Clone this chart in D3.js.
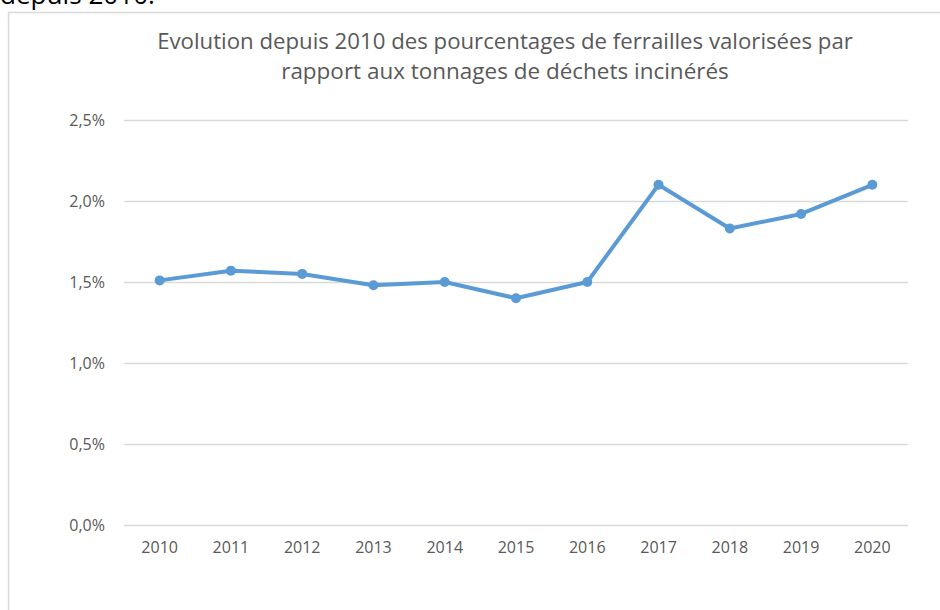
<!DOCTYPE html>
<html>
<head>
<meta charset="utf-8">
<script src="https://cdn.jsdelivr.net/npm/d3@7"></script>
<style>
  body { margin: 0; background: #fff; }
  svg { display: block; font-family: 'Open Sans', sans-serif; }
</style>
</head>
<body>
<div id="app"></div>
<script>
const years = ['2010', '2011', '2012', '2013', '2014', '2015', '2016', '2017', '2018', '2019', '2020'];
const values = [1.51, 1.57, 1.55, 1.48, 1.50, 1.40, 1.50, 2.10, 1.83, 1.92, 2.10];
const yTicks = [0, 0.5, 1.0, 1.5, 2.0, 2.5];
const titleLines = [
  'Evolution depuis 2010 des pourcentages de ferrailles valorisées par',
  'rapport aux tonnages de déchets incinérés'
];

const svg = d3.select('#app').append('svg')
  .attr('width', 940)
  .attr('height', 610);

const margin = { top: 120, right: 32, bottom: 85, left: 124 };
const width = 940 - margin.left - margin.right;
const height = 610 - margin.top - margin.bottom;

function fitWidth(sel, target, fs) {
  const w = sel.node().getComputedTextLength();
  if (w > 0) sel.attr('font-size', fs * target / w);
}

// paragraph text above the chart (cut by the top edge, as in the source)
const headText = svg.append('text')
  .attr('x', 0)
  .attr('y', 4)
  .attr('fill', '#000')
  .attr('font-size', 22)
  .text('depuis 2010.');
fitWidth(headText, 155, 22);

// chart area border
svg.append('rect')
  .attr('x', 8.5)
  .attr('y', 12.5)
  .attr('width', 1000)
  .attr('height', 1000)
  .attr('fill', 'none')
  .attr('stroke', '#d9d9d9')
  .attr('stroke-width', 1.5);

const title = svg.append('g').attr('class', 'title');
const titleWidths = [696, 448];
titleLines.forEach((t, i) => {
  const tx = title.append('text')
    .attr('x', 505)
    .attr('y', 49 + i * 30)
    .attr('text-anchor', 'middle')
    .attr('fill', '#595959')
    .attr('font-size', 19)
    .text(t);
  fitWidth(tx, titleWidths[i], 19);
});

const g = svg.append('g')
  .attr('transform', `translate(${margin.left},${margin.top})`);

const x = d3.scaleBand()
  .domain(years)
  .range([0, width]);

const y = d3.scaleLinear()
  .domain([0, 2.5])
  .range([height, 0]);

const fmt = d => d3.format('.1f')(d).replace('.', ',') + '%';

// grid
g.append('g')
  .attr('class', 'grid')
  .call(d3.axisLeft(y)
    .tickValues(yTicks)
    .tickSize(-width)
    .tickFormat(''))
  .call(s => s.select('.domain').remove())
  .call(s => s.selectAll('line').attr('stroke', '#d9d9d9').attr('stroke-width', 1.3));

// y labels
g.append('g')
  .attr('class', 'axis axis--y')
  .call(d3.axisLeft(y).tickValues(yTicks).tickSize(0).tickPadding(19).tickFormat(fmt))
  .attr('font-family', "'Open Sans', sans-serif")
  .attr('font-size', 16)
  .call(s => s.select('.domain').remove())
  .call(s => s.selectAll('text').attr('fill', '#595959'));

// x labels
g.append('g')
  .attr('class', 'axis axis--x')
  .attr('transform', `translate(0,${height})`)
  .call(d3.axisBottom(x).tickSize(0).tickPadding(17))
  .attr('font-family', "'Open Sans', sans-serif")
  .attr('font-size', 16)
  .call(s => s.select('.domain').remove())
  .call(s => s.selectAll('text').attr('fill', '#595959'));

const data = years.map((yr, i) => ({ year: yr, value: values[i] }));
const cx = d => x(d.year) + x.bandwidth() / 2;

const line = d3.line()
  .x(cx)
  .y(d => y(d.value));

g.append('path')
  .datum(data)
  .attr('d', line)
  .attr('fill', 'none')
  .attr('stroke', '#5b9bd5')
  .attr('stroke-width', 4)
  .attr('stroke-linejoin', 'round')
  .attr('stroke-linecap', 'round');

g.selectAll('.dot')
  .data(data)
  .enter().append('circle')
    .attr('class', 'dot')
    .attr('cx', cx)
    .attr('cy', d => y(d.value))
    .attr('r', 5)
    .attr('fill', '#5b9bd5');
</script>
</body>
</html>
